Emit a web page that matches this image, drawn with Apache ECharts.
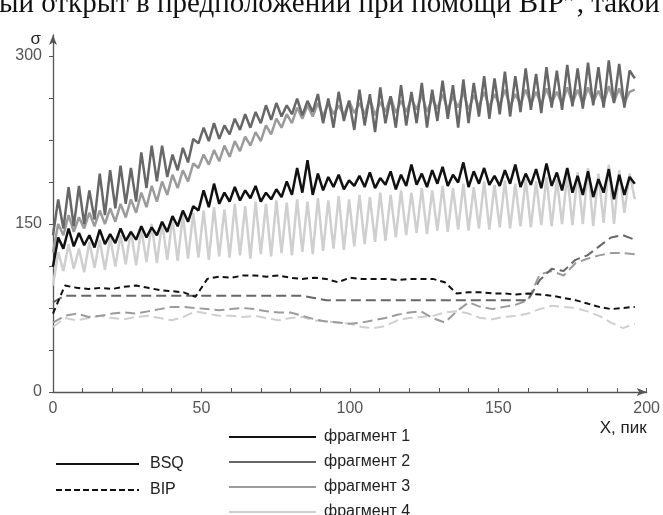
<!DOCTYPE html>
<html>
<head>
<meta charset="utf-8">
<script src="https://cdn.jsdelivr.net/npm/echarts@6/dist/echarts.min.js"></script>
<style>html,body{margin:0;padding:0;background:#fff}#c{width:663px;height:515px}</style>
</head>
<body>
<div id="c"></div>
<script>
// zigzag (BSQ) series sampled every 1.75 units of X
const bsqStep = 1.75;
const bsqF1 = [112,138,128,146,130,142,131,140,129,145,132,141,
  133,146,135,143,136,148,138,147, 140,152,143,157,148,162,152,166,
  162,180,165,186,168,178,170,183, 171,180,173,184,170,178,172,181,
  174,188,176,200,178,207,176,195, 180,192,183,194,181,189,184,193,
  183,196,182,191,185,197,181,194, 184,203,185,195,183,198,186,201,
  184,194,187,205,183,197,186,200, 185,193,184,198,186,203,183,195,
  185,199,182,204,184,196,180,200, 178,193,176,197,174,190,178,199,
  172,194,176,192,186];
const bsqF2 = [140,172,146,183,148,184,150,180,154,195,158,198,
  164,202,168,200,170,214,182,220, 188,220,192,212,198,218,205,226,
  222,236,224,240,226,238,230,244, 234,248,236,250,240,256,243,258,
  246,256,248,262,247,260,250,266, 240,262,236,268,242,260,234,270,
  238,266,232,272,240,264,236,274, 238,268,240,276,236,270,242,278,
  244,274,236,279,240,276,246,282, 244,280,248,286,246,282,250,289,
  252,284,249,290,254,287,252,292, 255,289,253,294,256,290,254,296,
  258,293,254,287,280];
const bsqF3 = [125,150,140,158,143,156,146,160,148,162,150,164,
  152,168,156,172,160,178,165,184, 170,188,176,194,182,198,188,204,
  200,212,203,216,206,220,210,224, 215,228,220,232,224,238,230,244,
  236,248,240,254,244,256,246,258, 246,258,248,256,247,260,249,258,
  248,262,247,259,250,264,249,260, 250,262,252,266,250,262,253,266,
  252,264,254,268,252,265,255,268, 254,266,256,270,255,266,257,270,
  257,268,256,271,258,268,257,272, 258,270,257,272,259,269,258,273,
  259,271,258,268,270];
const bsqF4 = [95,125,108,132,110,128,107,134,111,136,109,138,
  112,140,114,144,113,146,116,150, 115,152,118,155,117,158,119,160,
  120,162,118,165,121,163,120,168, 122,166,119,170,123,168,121,171,
  124,169,122,172,125,170,123,173, 126,171,128,175,127,172,130,176,
  132,174,134,178,135,176,138,180, 140,178,142,182,141,180,144,184,
  143,182,145,186,144,183,146,188, 145,185,147,189,146,186,148,190,
  147,188,149,192,148,190,150,194, 149,196,150,200,148,195,151,203,
  150,198,160,195,172];

// dashed (BIP) series sampled every 4 units of X
const bipStep = 4;
const bipF1 = [70,95,93,92,93,92,94,95,93,91, 90,89,85,101,103,102,104,104,103,104,
  102,101,102,101,98,102,101,101,101,100, 101,101,101,98,88,89,89,88,88,87,
  88,87,86,84,82,79,76,74,75,76];
const bipF2 = [80,86,86,86,86,86,86,86,86,86, 86,86,86,86,86,86,86,86,86,86,
  86,86,84,82,82,82,82,82,82,82, 82,82,82,82,82,82,82,82,82,82,
  82,100,110,108,118,122,130,138,140,136];
const bipF3 = [62,68,70,67,68,70,71,70,72,74, 76,76,75,74,73,74,75,74,72,71,
  71,68,65,63,62,61,62,64,66,69, 71,72,66,62,72,80,76,74,76,78,
  82,105,108,104,115,119,122,124,124,123];
const bipF4 = [58,66,64,66,68,66,65,67,68,66, 64,67,72,70,68,68,67,68,66,64,
  66,67,64,63,62,61,58,57,59,64, 66,67,68,71,72,70,66,65,67,68,
  70,74,77,76,75,72,68,62,57,61];

const fragNames = ['фрагмент 1','фрагмент 2','фрагмент 3','фрагмент 4'];
const methodNames = ['BSQ','BIP'];
const yLabels = [0,150,300];
const xLabels = [0,50,100,150,200];
const colors = ['#111111','#676767','#9b9b9b','#cfcfcf'];

const toPts = (arr, step) => arr.map((v, i) => [i * step, v]);

const FONT = '"Liberation Sans", Arial, sans-serif';
const bsq = [bsqF1, bsqF2, bsqF3, bsqF4];
const bip = [bipF1, bipF2, bipF3, bipF4];

const series = [];
for (let k = 3; k >= 0; k--) {
  series.push({
    name: fragNames[k], type: 'line', symbol: 'none', smooth: false,
    data: toPts(bsq[k], bsqStep),
    lineStyle: { color: colors[k], width: 2.5 }, itemStyle: { color: colors[k] },
    z: 2 + (3 - k)
  });
}
for (let k = 3; k >= 0; k--) {
  series.push({
    name: 'BIP ' + fragNames[k], type: 'line', symbol: 'none',
    data: toPts(bip[k], bipStep),
    lineStyle: { color: colors[k], width: 2, type: k === 0 ? [6, 4] : [10, 5] },
    itemStyle: { color: colors[k] }, z: 7 + (3 - k)
  });
}
series.push({ name: 'BSQ', type: 'line', symbol: 'none', data: [],
  lineStyle: { color: '#111', width: 2.5 }, itemStyle: { color: '#111' } });
series.push({ name: 'BIP', type: 'line', symbol: 'none', data: [],
  lineStyle: { color: '#111', width: 2, type: [6, 3] }, itemStyle: { color: '#111' } });

const legendText = { color: '#222', fontSize: 16, fontFamily: FONT };

const chart = echarts.init(document.getElementById('c'));
chart.setOption({
  animation: false,
  backgroundColor: '#fff',
  grid: { left: 53, right: 15, top: 35, bottom: 123, containLabel: false },
  xAxis: {
    type: 'value', min: 0, max: 200, interval: 10,
    name: 'X, пик', nameLocation: 'end', nameGap: 0,
    nameTextStyle: { color: '#222', fontSize: 17, fontFamily: FONT, align: 'right', verticalAlign: 'top', padding: [28, 0, 0, 0] },
    axisLine: { lineStyle: { color: '#555', width: 1.3 }, symbol: ['none', 'arrow'], symbolSize: [6, 10] },
    axisTick: { inside: true, length: 4, lineStyle: { color: '#555' } },
    axisLabel: { color: '#555', fontSize: 16, fontFamily: FONT, margin: 9,
      formatter: v => xLabels.includes(v) ? String(v) : '' },
    splitLine: { show: false }
  },
  yAxis: {
    type: 'value', min: 0, max: 318.75, interval: 37.5,
    name: 'σ', nameLocation: 'end', nameGap: -16,
    nameTextStyle: { color: '#222', fontSize: 17, fontFamily: FONT, align: 'right', padding: [0, 12, 0, 0] },
    axisLine: { show: true, lineStyle: { color: '#555', width: 1.3 }, symbol: ['none', 'arrow'], symbolSize: [6, 10] },
    axisTick: { show: true, length: 4, lineStyle: { color: '#555' } },
    axisLabel: { color: '#555', fontSize: 16, fontFamily: FONT, margin: 11, showMaxLabel: false,
      formatter: v => yLabels.includes(v) ? String(v) : '' },
    splitLine: { show: false }
  },
  legend: [
    { data: methodNames, orient: 'vertical', left: 55, top: 456, padding: 0, itemWidth: 83, itemHeight: 14, itemGap: 10,
      itemStyle: { opacity: 0 },
      textStyle: Object.assign({ padding: [0, 0, 0, 6] }, legendText), selectedMode: false },
    { data: fragNames, orient: 'vertical', left: 228, top: 429, height: 120, padding: 0, itemWidth: 87, itemHeight: 14, itemGap: 9,
      itemStyle: { opacity: 0 },
      textStyle: Object.assign({ padding: [0, 0, 0, 3] }, legendText), selectedMode: false }
  ],
  graphic: [
    { type: 'text', left: -1, top: -10, silent: true,
      style: { text: 'ый открыт в предположении при помощи BIP”, такой', font: '29px "Liberation Serif", serif', fill: '#111' } }
  ],
  series: series
});
</script>
</body>
</html>
